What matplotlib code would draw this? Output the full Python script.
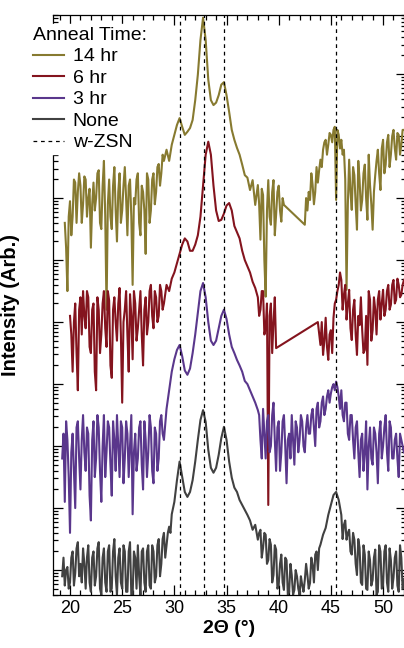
import numpy as np
import matplotlib
matplotlib.use("Agg")
import matplotlib.pyplot as plt
from matplotlib.ticker import LogLocator, MultipleLocator, NullFormatter

plt.rcParams['font.family'] = ['Liberation Sans', 'DejaVu Sans']

# 2-theta grid, 0.25 deg steps from 19.0 to 52.0 (one row of 4 values per degree below)
two_theta = np.arange(19.0, 52.01, 0.25)
# in-between readings (x.125, x.375, ...) for the noisy stretches
two_theta_mid = np.arange(19.125, 51.9, 0.25)

# log10 intensity (stacked offsets already included), None = no point
log_14hr = [
    None, None, 6.0, 4.9,     # 19
    6.35, 6.1, 6.65, 6.5,     # 20
    6.6, 6.3, 6.7, 6.4,       # 21
    5.6, 6.65, 6.4, 6.85,     # 22
    5.9, 7.0, 4.6, 6.7,       # 23
    5.9, 6.9, 5.7, 6.8,       # 24
    6.2, 6.9, 5.8, 6.7,       # 25
    5.0, 6.3, 6.8, 5.8,       # 26
    6.5, 5.5, 6.7, 6.2,       # 27
    6.8, 6.5, 6.95, 6.8,      # 28
    7.0, 7.18, 7.0, 7.26,     # 29
    7.42, 7.58, 7.69, 7.55,   # 30
    7.42, 7.47, 7.53, 7.66,   # 31
    7.98, 8.39, 8.95, 9.31,   # 32
    8.95, 8.31, 7.98, 7.9,    # 33
    7.94, 8.06, 8.23, 8.27,   # 34
    8.06, 7.79, 7.5, 7.34,    # 35
    7.21, 7.1, 6.94, 6.77,    # 36
    6.73, 6.53, 6.69, 6.29,   # 37
    6.61, 5.73, 6.45, 4.81,   # 38
    6.69, 5.97, 6.69, 6.13,   # 39
    6.6, 6.02, 6.29, None,    # 40
    None, None, None, None,   # 41
    None, None, 5.97, 6.2,    # 42
    6.37, 6.61, 6.5, 6.65,    # 43
    7.02, 7.18, 7.34, 7.26,   # 44
    7.42, 7.5, 6.37, 7.42,    # 45
    7.34, 7.18, 4.92, 7.02,   # 46
    6.21, 6.77, 5.89, 6.69,   # 47
    6.37, 6.94, 6.05, 6.61,   # 48
    5.89, 6.77, 7.18, 6.53,   # 49
    7.34, 6.94, 7.42, 7.1,    # 50
    7.5, 7.02, 7.42, 7.26,    # 51
    7.5,                      # 52
]
log_14hr_mid = [
    None, None, 5.6, 6.1,     # 19
    5.8, 6.7, 6.0, 6.8,       # 20
    6.0, 6.75, 6.1, 6.55,     # 21
    6.3, 6.2, 6.8, 6.0,       # 22
    6.6, 6.1, 6.3, 6.1,       # 23
    6.6, 6.2, 6.5, 6.0,       # 24
    6.6, 6.4, 6.6, 6.1,       # 25
    6.4, 6.7, 6.0, 6.6,       # 26
    6.2, 6.8, 6.0, 6.7,       # 27
    6.3, 6.9, 6.6, 7.1,       # 28
    None, None, None, None,   # 29
    None, None, None, None,   # 30
    None, None, None, None,   # 31
    None, None, None, None,   # 32
    None, None, None, None,   # 33
    None, None, None, None,   # 34
    None, None, None, None,   # 35
    None, None, None, None,   # 36
    None, None, None, None,   # 37
    6.3, 6.55, 5.4, 6.2,      # 38
    6.1, 6.5, 5.8, 6.5,       # 39
    6.2, 6.4, None, None,     # 40
    None, None, None, None,   # 41
    None, None, 6.4, 6.5,     # 42
    6.8, 6.3, 6.9, 6.85,      # 43
    6.9, 7.3, 7.1, 7.45,      # 44
    7.3, 7.55, 7.5, 7.2,      # 45
    7.1, 6.7, 6.3, 6.5,       # 46
    6.9, 6.3, 7.0, 6.2,       # 47
    6.8, 6.4, 7.1, 6.3,       # 48
    6.5, 7.0, 6.8, 7.2,       # 49
    6.8, 7.3, 6.9, 7.4,       # 50
    7.2, 7.45, 7.1, 7.5,      # 51
]

log_6hr = [
    None, None, None, None,   # 19
    4.5, 3.6, 4.7, 3.3,       # 20
    4.8, 4.9, 4.3, 4.8,       # 21
    3.9, 4.7, 3.3, 4.6,       # 22
    4.2, 4.9, 4.0, 4.75,      # 23
    3.5, 4.8, 4.1, 4.95,      # 24
    3.1, 4.6, 4.2, 4.85,      # 25
    3.8, 4.7, 4.3, 4.9,       # 26
    3.7, 4.8, 4.4, 5.0,       # 27
    4.3, 4.8, 4.5, 4.9,       # 28
    4.7, 5.0, 4.9, 5.1,       # 29
    5.2, 5.35, 5.5, 5.65,     # 30
    5.75, 5.7, 5.55, 5.55,    # 31
    5.65, 5.8, 6.1, 6.6,      # 32
    7.1, 7.31, 7.1, 6.6,      # 33
    6.2, 6.03, 6.05, 6.15,    # 34
    6.28, 6.32, 6.2, 5.95,    # 35
    5.85, 5.75, 5.55, 5.4,    # 36
    5.3, 5.2, 5.05, 4.95,     # 37
    4.8, 4.6, 4.9, 4.3,       # 38
    1.45, 4.7, 4.4, 3.98,     # 39
    None, None, None, None,   # 40
    None, None, None, None,   # 41
    None, None, None, None,   # 42
    None, None, None, 4.4,    # 43
    4.03, 3.87, 4.47, 3.79,   # 44
    4.27, 4.47, 4.76, 5.0,    # 45
    5.08, 4.84, 4.44, 4.92,   # 46
    4.11, 4.76, 3.87, 4.35,   # 47
    4.27, 3.95, 3.71, 4.76,   # 48
    4.27, 4.6, 4.76, 4.44,    # 49
    4.92, 4.6, 5.0, 4.68,     # 50
    5.08, 4.76, 5.0, 4.84,    # 51
    5.08,                     # 52
]
log_6hr_mid = [
    None, None, None, None,   # 19
    4.2, 4.4, 3.9, 4.6,       # 20
    4.2, 4.5, 4.9, 4.0,       # 21
    4.6, 3.6, 4.8, 3.9,       # 22
    4.7, 4.3, 4.9, 3.7,       # 23
    4.6, 4.4, 4.7, 4.2,       # 24
    4.4, 4.9, 3.6, 4.5,       # 25
    4.9, 4.1, 4.6, 4.2,       # 26
    4.6, 4.2, 4.9, 4.5,       # 27
    4.9, 4.4, 5.0, 4.6,       # 28
    None, None, None, None,   # 29
    None, None, None, None,   # 30
    None, None, None, None,   # 31
    None, None, None, None,   # 32
    None, None, None, None,   # 33
    None, None, None, None,   # 34
    None, None, None, None,   # 35
    None, None, None, None,   # 36
    None, None, None, None,   # 37
    4.5, 4.9, 4.2, 4.7,       # 38
    4.5, 3.9, 4.8, None,      # 39
    None, None, None, None,   # 40
    None, None, None, None,   # 41
    None, None, None, None,   # 42
    None, None, None, None,   # 43
    4.4, 4.1, 4.0, 4.2,       # 44
    3.9, 4.7, 4.9, 5.2,       # 45
    4.6, 5.0, 4.7, 4.3,       # 46
    4.6, 4.2, 4.5, 4.8,       # 47
    3.9, 4.5, 4.9, 4.1,       # 48
    4.8, 4.2, 4.9, 4.7,       # 49
    4.5, 4.9, 4.6, 5.0,       # 50
    4.7, 5.1, 4.8, 5.0,       # 51
]

log_3hr = [
    None, 2.2, 1.5, 2.5,      # 19
    1.0, 2.6, 1.4, 2.8,       # 20
    1.7, 2.9, 2.0, 2.6,       # 21
    1.2, 2.8, 2.2, 2.7,       # 22
    1.5, 2.9, 2.3, 2.7,       # 23
    1.6, 2.5, 2.9, 1.9,       # 24
    2.7, 2.2, 2.6, 2.4,       # 25
    1.3, 2.6, 2.2, 2.8,       # 26
    1.7, 2.5, 2.3, 2.7,       # 27
    1.8, 2.6, 2.2, 2.9,       # 28
    2.5, 3.0, 3.3, 3.6,       # 29
    3.8, 3.95, 4.03, 3.85,    # 30
    3.62, 3.55, 3.65, 3.9,    # 31
    4.2, 4.55, 4.9, 5.03,     # 32
    4.8, 4.4, 4.1, 4.03,      # 33
    4.1, 4.3, 4.5, 4.6,       # 34
    4.45, 4.2, 4.0, 3.9,      # 35
    3.79, 3.7, 3.6, 3.45,     # 36
    3.4, 3.3, 3.2, 3.1,       # 37
    2.98, 2.5, 3.0, 2.2,      # 38
    2.9, 2.4, 3.1, 2.0,       # 39
    2.8, 2.3, 2.9, 1.8,       # 40
    2.6, 2.9, 2.1, 2.7,       # 41
    2.5, 2.8, 2.3, 2.9,       # 42
    2.6, 3.0, 2.4, 3.1,       # 43
    2.8, 3.2, 3.0, 3.3,       # 44
    3.25, 3.4, 3.44, 3.2,     # 45
    3.3, 2.8, 3.1, 2.5,       # 46
    2.9, 2.2, 2.8, 1.9,       # 47
    2.6, 2.3, 1.7, 2.7,       # 48
    2.1, 2.6, 1.8, 2.8,       # 49
    2.4, 2.9, 2.0, 2.7,       # 50
    2.2, 2.6, 1.9, 2.5,       # 51
    2.3,                      # 52
]
log_3hr_mid = [
    None, 2.6, 2.8, 1.9,      # 19
    2.3, 2.0, 2.7, 2.2,       # 20
    2.5, 2.3, 2.7, 1.6,       # 21
    2.5, 1.9, 2.9, 2.0,       # 22
    2.4, 1.9, 2.8, 2.1,       # 23
    2.8, 2.0, 2.4, 2.8,       # 24
    1.8, 2.8, 1.9, 2.9,       # 25
    2.3, 2.0, 2.7, 2.1,       # 26
    2.8, 1.9, 2.9, 2.0,       # 27
    2.7, 2.0, 2.8, 2.6,       # 28
    None, None, None, None,   # 29
    None, None, None, None,   # 30
    None, None, None, None,   # 31
    None, None, None, None,   # 32
    None, None, None, None,   # 33
    None, None, None, None,   # 34
    None, None, None, None,   # 35
    None, None, None, None,   # 36
    None, None, None, None,   # 37
    2.9, 2.2, 2.6, 2.8,       # 38
    2.3, 2.9, 2.5, 2.7,       # 39
    2.0, 2.8, 2.4, 2.5,       # 40
    2.2, 2.5, 2.8, 2.3,       # 41
    2.9, 2.4, 2.7, 2.6,       # 42
    2.9, 2.7, 3.0, 2.7,       # 43
    3.1, 2.9, 3.2, 3.1,       # 44
    3.35, 3.3, 3.35, 3.0,     # 45
    2.9, 3.1, 2.6, 2.9,       # 46
    2.5, 2.7, 2.3, 2.5,       # 47
    2.0, 2.8, 2.4, 2.2,       # 48
    2.7, 2.3, 2.6, 2.2,       # 49
    2.7, 2.3, 2.8, 2.2,       # 50
    2.5, 2.2, 2.6, 2.4,       # 51
]

log_none = [
    None, 0.3, 0.15, 0.45,    # 19
    0.2, 0.7, 0.35, 0.85,     # 20
    0.5, 0.75, 0.1, 0.8,      # 21
    0.05, 0.7, 0.3, 0.85,     # 22
    0.0, 0.75, 0.05, 0.8,     # 23
    0.1, 0.9, 0.0, 0.75,      # 24
    0.1, 0.7, 0.05, 0.85,     # 25
    0.0, 0.6, 0.8, 0.0,       # 26
    0.75, 0.05, 0.8, 0.1,     # 27
    0.7, 0.3, 0.9, 0.5,       # 28
    1.0, 0.8, 1.1, 1.3,       # 29
    1.5, 1.85, 2.15, 1.9,     # 30
    1.66, 1.58, 1.66, 1.85,   # 31
    2.15, 2.5, 2.82, 2.98,    # 32
    2.79, 2.34, 2.05, 1.97,   # 33
    2.05, 2.26, 2.53, 2.71,   # 34
    2.5, 2.15, 1.89, 1.73,    # 35
    1.66, 1.53, 1.45, 1.37,   # 36
    1.29, 1.2, 1.05, 1.13,    # 37
    0.89, 1.05, 0.76, 0.97,   # 38
    0.56, 0.81, 0.32, 0.73,   # 39
    0.16, 0.65, 0.08, 0.56,   # 40
    0.05, 0.32, 0.08, 0.3,    # 41
    0.0, 0.16, 0.24, 0.32,    # 42
    0.19, 0.48, 0.65, 0.4,    # 43
    0.81, 0.97, 1.08, 1.29,   # 44
    1.45, 1.61, 1.66, 1.53,   # 45
    1.29, 1.13, 0.89, 1.05,   # 46
    0.65, 0.89, 0.32, 0.76,   # 47
    0.16, 0.65, 0.08, 0.56,   # 48
    0.24, 0.73, 0.05, 0.7,    # 49
    0.15, 0.8, 0.05, 0.56,    # 50
    0.28, 0.7, 0.05, 0.6,     # 51
    0.25,                     # 52
]
log_none_mid = [
    None, 0.6, 0.4, 0.1,      # 19
    0.6, 0.15, 0.75, 0.3,     # 20
    0.2, 0.5, 0.6, 0.2,       # 21
    0.6, 0.15, 0.75, 0.1,     # 22
    0.6, 0.2, 0.7, 0.05,      # 23
    0.7, 0.3, 0.6, 0.2,       # 24
    0.8, 0.05, 0.7, 0.0,      # 25
    0.7, 0.1, 0.3, 0.7,       # 26
    0.2, 0.7, 0.15, 0.8,      # 27
    0.2, 0.8, 0.3, 0.9,       # 28
    0.6, 1.0, 1.0, None,      # 29
    None, None, None, None,   # 30
    None, None, None, None,   # 31
    None, None, None, None,   # 32
    None, None, None, None,   # 33
    None, None, None, None,   # 34
    None, None, None, None,   # 35
    None, None, None, None,   # 36
    None, None, None, None,   # 37
    1.0, 0.6, 1.0, 0.5,       # 38
    0.9, 0.2, 0.8, 0.1,       # 39
    0.5, 0.2, 0.6, 0.0,       # 40
    0.5, 0.0, 0.4, 0.1,       # 41
    0.3, 0.05, 0.5, 0.1,      # 42
    0.6, 0.2, 0.7, 0.75,      # 43
    None, None, None, None,   # 44
    None, None, None, None,   # 45
    0.9, 1.2, 1.0, 0.7,       # 46
    1.0, 0.5, 0.9, 0.2,       # 47
    0.8, 0.1, 0.7, 0.15,      # 48
    0.6, 0.0, 0.8, 0.1,       # 49
    0.7, 0.2, 0.75, 0.1,      # 50
    0.6, 0.15, 0.8, 0.1,      # 51
]

labels = ['14 hr', '6 hr', '3 hr', 'None']
colors = ['#877a30', '#84141e', '#5a378c', '#414141']
series = [(log_14hr, log_14hr_mid), (log_6hr, log_6hr_mid),
          (log_3hr, log_3hr_mid), (log_none, log_none_mid)]

# wurtzite ZnSnN2 reference peak positions
zsn_peaks = [30.5, 32.8, 34.8, 45.5]

# decade ticks sit a bit above the bottom of the frame
base = -0.4

fig = plt.figure(figsize=(4.04, 6.48), dpi=100)
ax = fig.add_axes([0.1312, 0.082, 0.8738, 0.895])

for (main, mid), lab, col in zip(series, labels, colors):
    x = np.concatenate([two_theta, two_theta_mid])
    v = np.array([np.nan if a is None else a for a in main + mid], dtype=float)
    order = np.argsort(x)
    x, v = x[order], v[order]
    ok = ~np.isnan(v)
    ax.plot(x[ok], 10 ** (v[ok] + base), color=col, lw=1.5, label=lab, zorder=2)

for i, p in enumerate(zsn_peaks):
    ax.axvline(p, color='black', lw=0.9, ls=(0, (3, 3)), zorder=3,
               label='w-ZSN' if i == 0 else None)

ax.set_yscale('log')
ax.set_xlim(18.37, 52.2)
ax.set_ylim(10 ** base, 10 ** (580 / 62 + base))

ax.xaxis.set_major_locator(MultipleLocator(5))
ax.xaxis.set_minor_locator(MultipleLocator(1))
ax.yaxis.set_major_locator(LogLocator(base=10, numticks=20))
ax.yaxis.set_minor_locator(LogLocator(base=10, subs=np.arange(2, 10), numticks=20))
ax.yaxis.set_major_formatter(NullFormatter())
ax.yaxis.set_minor_formatter(NullFormatter())

ax.tick_params(which='both', direction='in', top=True, right=True, width=0.9,
               labelsize=13, pad=4)
ax.tick_params(which='major', length=7)
ax.tick_params(which='minor', length=3.5)
for s in ax.spines.values():
    s.set_linewidth(0.9)

ax.set_xlabel('2Θ (°)', fontsize=14, fontweight='bold', labelpad=2)
ax.set_ylabel('Intensity (Arb.)', fontsize=14.5, fontweight='bold')
ax.yaxis.set_label_coords(-0.094, 0.5)

leg = ax.legend(loc='upper left', bbox_to_anchor=(30 / 404, 1 - 24 / 648),
                bbox_transform=fig.transFigure, title='Anneal Time:',
                alignment='left', fontsize=14, title_fontsize=14,
                frameon=True, fancybox=False, framealpha=1, edgecolor='white',
                borderpad=0.15, labelspacing=0.2, handlelength=1.6,
                handletextpad=0.45, borderaxespad=0)

fig.savefig('out.png', dpi=100)
